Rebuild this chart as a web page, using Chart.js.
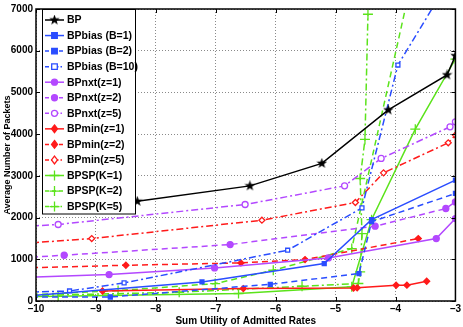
<!DOCTYPE html>
<html>
<head>
    <title>Average Number of Packets</title>
    <script src="https://cdn.jsdelivr.net/npm/chart.js"></script>
    <style>
        body {
            margin: 0;
            padding: 0;
            background-color: #ffffff;
        }
        #wrap {
            width: 463px;
            height: 327px;
        }
    </style>
</head>
<body>
    <div id="wrap">
        <canvas id="myChart" width="463" height="327"></canvas>
    </div>
<script>
// series values (x = sum utility, y = packets)
var bpX = [-9.3, -8.31, -6.43, -5.23, -4.12, -3.14, -3.0];
var bpY = [2200, 2390, 2760, 3300, 4580, 5420, 5880];

var bias1X = [-10.4, -7.23, -5.19, -4.40, -3.0];
var bias1Y = [90, 456, 898, 1950, 2897];
var bias2X = [-10.4, -8.76, -6.09, -4.61, -4.40, -3.0];
var bias2Y = [95, 96, 401, 657, 1900, 2578];
var bias10X = [-10.4, -9.44, -8.53, -5.80, -4.56, -3.96, -3.0];
var bias10Y = [200, 240, 433, 1217, 2232, 5657, 7930];

var nxt1X = [-10.4, -8.78, -7.02, -5.12, -3.32, -3.0];
var nxt1Y = [560, 633, 793, 1033, 1497, 1977];
var nxt2X = [-10.4, -9.53, -6.76, -4.34, -3.16, -3.0];
var nxt2Y = [1020, 1097, 1353, 1793, 2217, 2376];
var nxt5X = [-10.4, -9.63, -6.51, -4.85, -4.24, -3.09, -3.0];
var nxt5Y = [1770, 1834, 2313, 2760, 3417, 4176, 4296];

var min1X = [-8.89, -6.54, -4.70, -4.64, -3.99, -3.81, -3.48];
var min1Y = [240, 298, 312, 315, 377, 380, 473];
var min2X = [-10.4, -8.50, -6.58, -5.51, -3.62];
var min2Y = [785, 857, 913, 993, 1497];
var min5X = [-10.4, -9.07, -6.23, -4.67, -4.20, -3.12, -3.0];
var min5Y = [1360, 1497, 1937, 2362, 3072, 3792, 3977];

var sp1X = [-10.4, -9.63, -6.62, -4.73, -4.40, -3.67, -3.0];
var sp1Y = [100, 113, 180, 340, 1950, 4120, 5800];
var sp2X = [-10.4, -8.63, -7.01, -6.04, -4.73, -3.7];
var sp2Y = [130, 250, 417, 737, 1257, 7880];
var sp5X = [-10.4, -7.61, -5.56, -4.62, -4.59, -4.56, -4.59, -4.51, -4.46];
var sp5Y = [120, 210, 353, 420, 697, 1617, 2937, 3873, 6874];

var xTicks = [-10, -9, -8, -7, -6, -5, -4, -3];
var yTicks = [0, 1000, 2000, 3000, 4000, 5000, 6000, 7000];

var BLUE = '#2a4dff';
var PURPLE = '#b348ff';
var RED = '#ff1a1a';
var GREEN = '#5be31b';

var SOLID = [];
var DASH = [6, 4];
var DASHDOT = [7, 3, 2, 3];

function pts(xs, ys) {
    var out = [];
    for (var i = 0; i < xs.length; i++) out.push({x: xs[i], y: ys[i]});
    return out;
}

// five point star marker as a small canvas
function makeStar(color, size) {
    var c = document.createElement('canvas');
    c.width = size; c.height = size;
    var g = c.getContext('2d');
    var cx = size / 2, cy = size / 2, R = size / 2, r = R * 0.42;
    g.beginPath();
    for (var i = 0; i < 10; i++) {
        var a = -Math.PI / 2 + i * Math.PI / 5;
        var rr = (i % 2 === 0) ? R : r;
        g.lineTo(cx + rr * Math.cos(a), cy + rr * Math.sin(a));
    }
    g.closePath();
    g.fillStyle = color;
    g.fill();
    return c;
}
var starImg = makeStar('#000000', 11);

function series(label, xs, ys, color, dash, style, filled, radius) {
    return {
        label: label,
        data: pts(xs, ys),
        borderColor: color,
        borderWidth: 1.5,
        borderDash: dash,
        pointStyle: style,
        pointRadius: radius,
        pointBorderColor: color,
        pointBackgroundColor: filled ? color : '#ffffff',
        pointBorderWidth: 1.3,
        tension: 0,
        fill: false
    };
}

var datasets = [
    series('BP', bpX, bpY, '#000000', SOLID, starImg, true, 5),
    series('BPbias (B=1)', bias1X, bias1Y, BLUE, SOLID, 'rect', true, 2.8),
    series('BPbias (B=2)', bias2X, bias2Y, BLUE, DASH, 'rect', true, 2.8),
    series('BPbias (B=10)', bias10X, bias10Y, BLUE, DASHDOT, 'rect', false, 2.8),
    series('BPnxt(z=1)', nxt1X, nxt1Y, PURPLE, SOLID, 'circle', true, 3),
    series('BPnxt(z=2)', nxt2X, nxt2Y, PURPLE, DASH, 'circle', true, 3),
    series('BPnxt(z=5)', nxt5X, nxt5Y, PURPLE, DASHDOT, 'circle', false, 3),
    series('BPmin(z=1)', min1X, min1Y, RED, SOLID, 'rectRot', true, 3),
    series('BPmin(z=2)', min2X, min2Y, RED, DASH, 'rectRot', true, 3),
    series('BPmin(z=5)', min5X, min5Y, RED, DASHDOT, 'rectRot', false, 3),
    series('BPSP(K=1)', sp1X, sp1Y, GREEN, SOLID, 'cross', true, 5),
    series('BPSP(K=2)', sp2X, sp2Y, GREEN, DASH, 'cross', true, 5),
    series('BPSP(K=5)', sp5X, sp5Y, GREEN, DASHDOT, 'cross', true, 5)
];

function drawMarker(ctx, ds, x, y) {
    var st = ds.pointStyle, r = ds.pointRadius;
    ctx.save();
    ctx.setLineDash([]);
    ctx.lineWidth = ds.pointBorderWidth;
    ctx.strokeStyle = ds.pointBorderColor;
    ctx.fillStyle = ds.pointBackgroundColor;
    if (typeof st !== 'string') {
        ctx.drawImage(st, x - st.width / 2, y - st.height / 2);
    } else if (st === 'rect') {
        ctx.beginPath(); ctx.rect(x - r, y - r, 2 * r, 2 * r); ctx.fill(); ctx.stroke();
    } else if (st === 'circle') {
        ctx.beginPath(); ctx.arc(x, y, r, 0, Math.PI * 2); ctx.fill(); ctx.stroke();
    } else if (st === 'rectRot') {
        ctx.beginPath();
        ctx.moveTo(x, y - r * 1.3); ctx.lineTo(x + r, y); ctx.lineTo(x, y + r * 1.3); ctx.lineTo(x - r, y);
        ctx.closePath(); ctx.fill(); ctx.stroke();
    } else if (st === 'cross') {
        ctx.beginPath();
        ctx.moveTo(x - r, y); ctx.lineTo(x + r, y);
        ctx.moveTo(x, y - r); ctx.lineTo(x, y + r);
        ctx.stroke();
    }
    ctx.restore();
}

// box round the plot, inward ticks and the legend drawn over the lines
var framePlugin = {
    id: 'frame',
    afterDatasetsDraw: function(chart) {
        var ctx = chart.ctx, a = chart.chartArea;
        var xs = chart.scales.x, ys = chart.scales.y;
        ctx.save();
        ctx.strokeStyle = '#000000';
        ctx.lineWidth = 1;
        ctx.setLineDash([]);
        ctx.beginPath();
        xTicks.forEach(function(v) {
            var px = Math.round(xs.getPixelForValue(v)) + 0.5;
            ctx.moveTo(px, a.top); ctx.lineTo(px, a.top + 4);
            ctx.moveTo(px, a.bottom); ctx.lineTo(px, a.bottom - 4);
        });
        yTicks.forEach(function(v) {
            var py = Math.round(ys.getPixelForValue(v)) + 0.5;
            ctx.moveTo(a.left, py); ctx.lineTo(a.left + 4, py);
            ctx.moveTo(a.right, py); ctx.lineTo(a.right - 4, py);
        });
        ctx.stroke();
        ctx.lineWidth = 1.5;
        ctx.strokeRect(a.left, a.top, a.right - a.left, a.bottom - a.top);

        // legend
        var lx = 42.5, ly = 9.5, lw = 93, lh = 204.5, row = 15.55;
        ctx.fillStyle = '#ffffff';
        ctx.fillRect(lx, ly, lw, lh);
        ctx.lineWidth = 1;
        ctx.strokeRect(lx, ly, lw, lh);
        ctx.font = 'bold 10.5px "Liberation Sans", Arial, sans-serif';
        ctx.textBaseline = 'middle';
        chart.data.datasets.forEach(function(ds, i) {
            var cy = 20 + i * row;
            ctx.save();
            ctx.strokeStyle = ds.borderColor;
            ctx.lineWidth = ds.borderWidth;
            ctx.setLineDash(ds.borderDash.length ? [4, 3] : []);
            if (ds.borderDash.length === 4) ctx.setLineDash([4, 2, 1.5, 2]);
            ctx.beginPath();
            ctx.moveTo(45, cy); ctx.lineTo(64, cy);
            ctx.stroke();
            ctx.restore();
            drawMarker(ctx, ds, 54.5, cy);
            ctx.fillStyle = '#000000';
            ctx.fillText(ds.label, 67, cy + 0.5);
        });
        ctx.restore();
    }
};

var ctx = document.getElementById('myChart').getContext('2d');
var myChart = new Chart(ctx, {
    type: 'line',
    data: { datasets: datasets },
    options: {
        responsive: false,
        animation: false,
        layout: { padding: { left: 0, right: 7, top: 8, bottom: 0 } },
        plugins: {
            legend: { display: false },
            tooltip: { enabled: false }
        },
        scales: {
            x: {
                type: 'linear',
                min: -10,
                max: -3,
                afterBuildTicks: function(scale) {
                    scale.ticks = xTicks.map(function(v) { return {value: v}; });
                },
                afterFit: function(scale) { scale.height = 26; },
                ticks: {
                    color: '#000000',
                    padding: 2,
                    font: { family: '"Liberation Sans", Arial, sans-serif', size: 10, weight: 'bold' },
                    callback: function(v) { return v < 0 ? '\u2013' + Math.abs(v) : String(v); }
                },
                grid: { color: '#8a8a8a', lineWidth: 1, drawTicks: false },
                border: { display: false, dash: [1, 2] },
                title: {
                    display: true,
                    text: 'Sum Utility of Admitted Rates',
                    color: '#000000',
                    padding: { top: 0, bottom: 0 },
                    font: { family: '"Liberation Sans", Arial, sans-serif', size: 10, weight: 'bold' }
                }
            },
            y: {
                min: 0,
                max: 7000,
                afterBuildTicks: function(scale) {
                    scale.ticks = yTicks.map(function(v) { return {value: v}; });
                },
                afterFit: function(scale) { scale.width = 36; },
                ticks: {
                    color: '#000000',
                    padding: 3,
                    font: { family: '"Liberation Sans", Arial, sans-serif', size: 10, weight: 'bold' },
                    callback: function(v) { return String(v); }
                },
                grid: { color: '#8a8a8a', lineWidth: 1, drawTicks: false },
                border: { display: false, dash: [1, 2] },
                title: {
                    display: true,
                    text: 'Average Number of Packets',
                    color: '#000000',
                    padding: { top: 2, bottom: 0 },
                    font: { family: '"Liberation Sans", Arial, sans-serif', size: 9, weight: 'bold' }
                }
            }
        }
    },
    plugins: [framePlugin]
});
</script>
</body>
</html>
